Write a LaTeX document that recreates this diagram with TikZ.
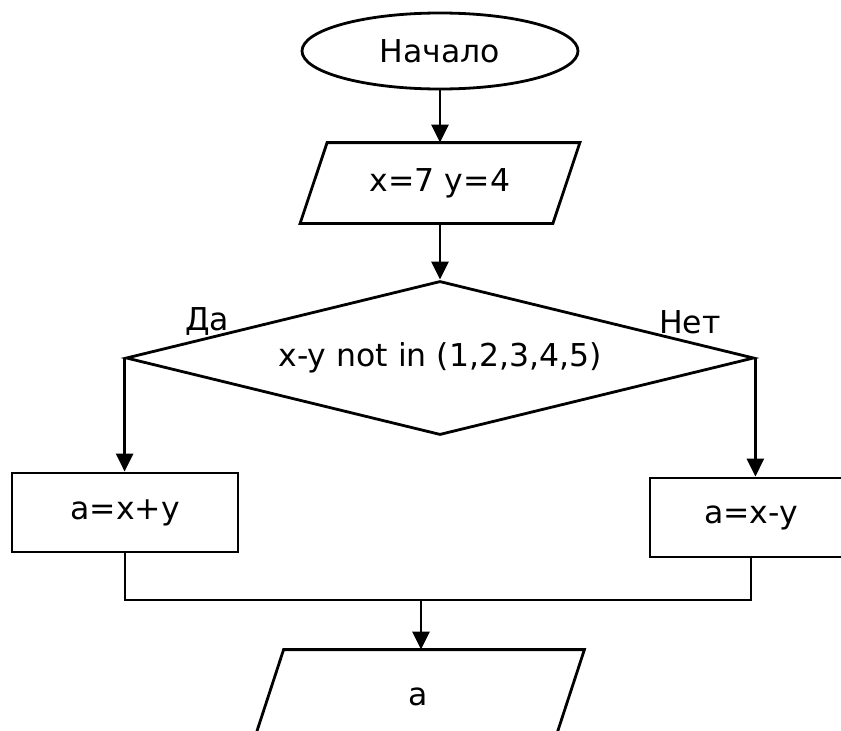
\documentclass[tikz,border=0pt]{standalone}
\usepackage{fontspec}
\setmainfont{DejaVu Sans}
\usetikzlibrary{shapes.geometric,arrows.meta}

\begin{document}
\begin{tikzpicture}[x=1pt,y=-1pt,line width=2.8pt,
  >={Triangle[length=18pt,width=17pt]},
  font=\fontsize{31.5}{38}\selectfont,
  box/.style={draw,rectangle,inner sep=0pt,minimum width=226pt,minimum height=79pt},
  iobox/.style={rectangle,inner sep=0pt,minimum width=250pt,minimum height=78pt}]
\useasboundingbox (0,0) rectangle (841,731);
\clip (0,0) rectangle (841,731);

\node[draw,ellipse,inner sep=0pt,minimum width=276pt,minimum height=76pt] (start) at (440,51) {Начало};
\node[iobox] (inp) at (440,183) {x=7 y=4};
\node[draw,diamond,aspect=4,inner sep=0pt,minimum width=628pt,minimum height=154pt] (cond) at (440,358) {x-y not in (1,2,3,4,5)};
\node[box] (sum) at (125,512.5) {a=x+y};
\node[box,minimum width=202pt] (diff) at (751,517.5) {a=x-y};
\node[iobox,minimum width=298pt,minimum height=92pt] (out) at (418.5,697) {a};
\node (yes) at (207,321) {Да};
\node (no) at (690,322) {Нет};
\coordinate (join) at (421,600);

% parallelograms round the input and output nodes
\draw ([xshift=13.5pt]inp.north west) -- ([xshift=13.5pt]inp.north east)
  -- ([xshift=-13.5pt]inp.south east) -- ([xshift=-13.5pt]inp.south west) -- cycle;
\draw ([xshift=15.5pt]out.north west) -- ([xshift=15.5pt]out.north east)
  -- ([xshift=-15.5pt]out.south east) -- ([xshift=-15.5pt]out.south west) -- cycle;

\draw[->] (start) -- (inp);
\draw[->] (inp) -- (cond);
\draw[->] (cond.west) -- (cond.west |- sum.north);
\draw[->] (cond.east) -- (cond.east |- diff.north);
\draw (sum.south) |- (join) -| (diff.south);
\draw[->] (join) -- (join |- out.north);
\end{tikzpicture}
\end{document}
